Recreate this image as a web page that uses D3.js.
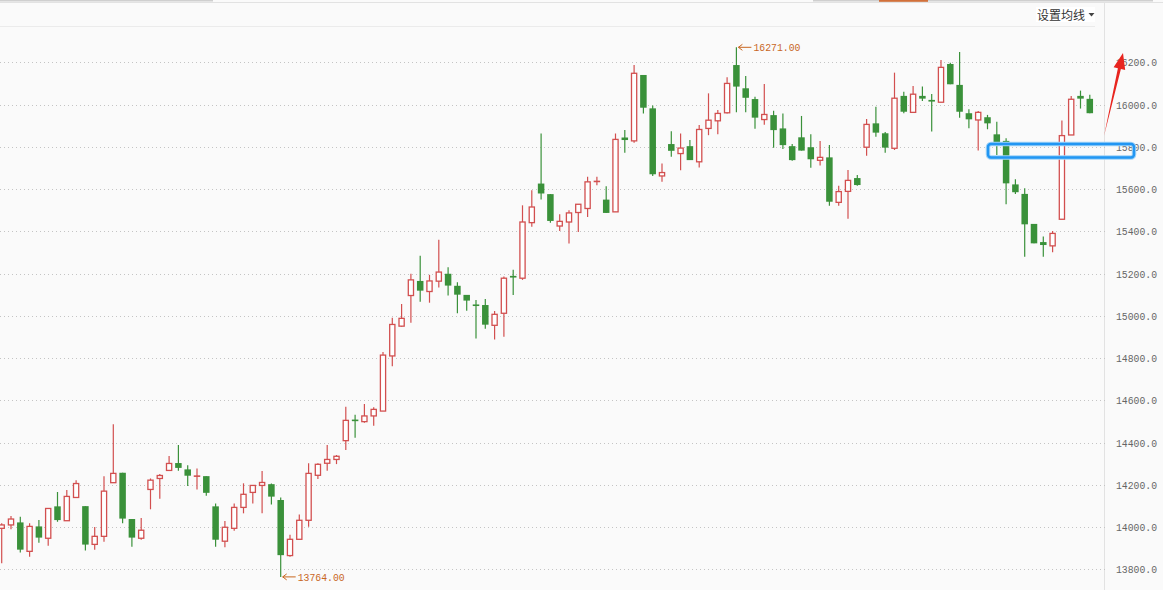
<!DOCTYPE html>
<html>
<head>
<meta charset="utf-8">
<script src="https://cdn.jsdelivr.net/npm/d3@7/dist/d3.min.js"></script>
<style>
html,body{margin:0;padding:0;background:#fafafa;overflow:hidden;}
svg{display:block;}
</style>
</head>
<body>
<svg id="chart" width="1163" height="590"></svg>
<script>
// ---- data ----
const opens = [13994,14010,14022,13885,14003,13947,14098,14030,14140,14099,
13918,13956,14210,14257,14038,13947,14178,14230,14268,14303,
14273,14240,14241,14098,13933,13994,14093,14164,14197,14203,
14128,13865,13942,14032,14245,14302,14320,14409,14506,14499,
14526,14549,14810,14951,15096,15165,15115,15164,15199,15142,
15099,15051,15051,14955,15012,15189,15178,15441,15626,15576,
15425,15444,15489,15508,15634,15550,15492,15844,15828,16140,
15982,15662,15813,15768,15803,15729,15887,15923,15961,16187,
16077,16026,15929,15950,15887,15803,15845,15798,15736,15750,
15537,15589,15652,15798,15911,15864,15793,16041,15963,16041,
16022,16011,16192,16093,15959,15927,15940,15859,15828,15622,
15577,15435,15349,15331,15457,15856,16041,16027];
const highs = [14018,14052,14049,14018,14033,14090,14166,14175,14222,14099,
14000,14241,14487,14257,14038,14043,14230,14251,14336,14388,
14293,14277,14241,14112,14029,14112,14207,14197,14265,14206,
14140,13963,14060,14302,14302,14388,14341,14570,14532,14583,
14567,14829,14991,15056,15199,15284,15194,15360,15230,15159,
15099,15075,15079,15023,15186,15218,15523,15594,15863,15576,
15481,15500,15528,15658,15658,15613,15863,15879,16187,16140,
15996,15721,15874,15863,15832,15903,16053,15974,16129,16271,
16135,16037,16097,15971,15958,15813,15946,15859,15828,15809,
15616,15690,15667,15932,15990,15870,16151,16061,16088,16085,
16050,16211,16198,16249,15978,15970,15951,15919,15840,15646,
15604,15435,15375,15402,15924,16041,16066,16046];
const lows = [13829,13989,13879,13860,13926,13912,14025,14030,14140,13889,
13893,13931,14210,14018,13907,13940,14084,14134,14268,14266,
14194,14178,14148,13907,13904,13983,14065,14112,14065,14107,
13764,13860,13942,14002,14227,14267,14298,14365,14423,14494,
14480,14549,14761,14948,14967,15067,15062,15134,15096,15012,
15024,14893,14939,14888,14901,15099,15170,15421,15550,15440,
15402,15342,15397,15468,15618,15487,15492,15772,15819,15958,
15662,15634,15753,15689,15737,15702,15855,15860,15958,15964,
15964,15885,15904,15795,15790,15734,15782,15701,15711,15521,
15521,15460,15616,15758,15848,15772,15785,15959,15963,16017,
15872,16011,16096,15938,15888,15782,15883,15761,15528,15577,
15280,15343,15280,15301,15457,15856,15981,15959];
const closes = [14010,14038,13893,14003,13950,14088,14033,14145,14206,13917,
13956,14170,14254,14040,13950,13985,14222,14244,14301,14280,
14243,14242,14162,13940,13999,14093,14155,14197,14211,14144,
13867,13942,14032,14254,14297,14320,14335,14505,14504,14526,
14557,14814,14959,14988,15170,15119,15165,15207,15143,15100,
15072,15049,14958,15007,15178,15181,15444,15515,15579,15449,
15447,15487,15528,15634,15638,15487,15835,15832,16148,15985,
15670,15678,15781,15794,15737,15882,15926,15958,16100,16085,
16032,15938,15953,15879,15808,15737,15782,15741,15750,15540,
15588,15641,15619,15906,15867,15796,16030,15966,16049,16028,
16014,16176,16096,15966,15930,15963,15911,15821,15627,15585,
15433,15343,15335,15390,15853,16025,16028,15959];
const yTicks = [13800,14000,14200,14400,14600,14800,15000,15200,15400,15600,15800,16000,16200];
const menuLabel = "设置均线";

// ---- build ----
const candles = opens.map((o,i)=>({i, o, h:highs[i], l:lows[i], c:closes[i]}));
const svg = d3.select("#chart");
const W = 1163, H = 590;
const RED = "#d24f4f", GREEN = "#3a913a", ANNO = "#c8661e";
const MONO = "'Liberation Mono','DejaVu Sans Mono',monospace";

svg.append("rect").attr("width",W).attr("height",H).attr("fill","#fafafa");

const x = d3.scaleBand().domain(d3.range(candles.length))
  .range([-2.95, 1094.45]).paddingInner(0.3).paddingOuter(0.15);
const y = d3.scaleLinear().domain([13800,16200]).range([569.3, 62.3]);

// top chrome
svg.append("rect").attr("x",0).attr("y",0).attr("width",213).attr("height",1.5).attr("fill","#cfcfcf");
svg.append("rect").attr("x",813).attr("y",0).attr("width",340).attr("height",1.5).attr("fill","#cfcfcf");
svg.append("rect").attr("x",879).attr("y",0).attr("width",49).attr("height",1.8).attr("fill","#d2703a");
svg.append("line").attr("x1",0).attr("x2",W).attr("y1",2.5).attr("y2",2.5).attr("stroke","#e2e2e2");
svg.append("line").attr("x1",0).attr("x2",1095).attr("y1",26.5).attr("y2",26.5).attr("stroke","#ebebeb");
svg.append("line").attr("x1",1104.5).attr("x2",1104.5).attr("y1",3).attr("y2",H).attr("stroke","#e2e2e2");

// grid + axis
const yAxis = d3.axisRight(y).tickValues(yTicks).tickFormat(d3.format(".1f")).tickSize(0).tickPadding(0);
const ag = svg.append("g").attr("transform","translate(1157,0)").call(yAxis);
ag.select(".domain").remove();
ag.selectAll("text").attr("text-anchor","end").attr("x",0)
  .attr("textLength",41).attr("lengthAdjust","spacingAndGlyphs")
  .attr("fill","#666").style("font-family",MONO).style("font-size","11px");

svg.append("g").selectAll("line").data(yTicks).join("line")
  .attr("x1",0).attr("x2",1107)
  .attr("y1",d=>Math.round(y(d))+0.5).attr("y2",d=>Math.round(y(d))+0.5)
  .attr("stroke","#c4c4c4").attr("stroke-dasharray","1,3");

// candles
const bw = x.bandwidth();
const cg = svg.append("g");
const g = cg.selectAll("g").data(candles).join("g");
g.append("line")
  .attr("x1",d=>x(d.i)+bw/2).attr("x2",d=>x(d.i)+bw/2)
  .attr("y1",d=>y(d.h)).attr("y2",d=>y(d.l))
  .attr("stroke",d=>d.c>=d.o?RED:GREEN).attr("stroke-width",1.2);
g.each(function(d){
  const sel = d3.select(this);
  const top = y(Math.max(d.o,d.c)), bot = y(Math.min(d.o,d.c));
  const up = d.c>=d.o;
  if (bot-top < 1.5) {
    sel.append("line").attr("x1",x(d.i)).attr("x2",x(d.i)+bw)
      .attr("y1",(top+bot)/2).attr("y2",(top+bot)/2)
      .attr("stroke",up?RED:GREEN).attr("stroke-width",1.6);
  } else if (up) {
    sel.append("rect").attr("x",x(d.i)+0.65).attr("y",top).attr("width",bw-1.3).attr("height",bot-top)
      .attr("fill","#ffffff").attr("stroke",RED).attr("stroke-width",1.3);
  } else {
    sel.append("rect").attr("x",x(d.i)).attr("y",top).attr("width",bw).attr("height",bot-top)
      .attr("fill",GREEN);
  }
});

// high / low annotations
function anno(d, val){
  const cx = x(d.i)+bw/2, yy = y(val);
  svg.append("path").attr("d",`M${cx+6},${yy-3}L${cx+2},${yy}L${cx+6},${yy+3}M${cx+2},${yy}L${cx+15},${yy}`)
    .attr("stroke",ANNO).attr("fill","none").attr("stroke-width",1);
  svg.append("text").attr("x",cx+17).attr("y",yy).attr("dy","0.35em").text(d3.format(".2f")(val))
    .attr("textLength",47).attr("lengthAdjust","spacingAndGlyphs")
    .attr("fill",ANNO).style("font-family",MONO).style("font-size","11px");
}
const hi = candles.reduce((a,b)=>b.h>a.h?b:a);
const lo = candles.reduce((a,b)=>b.l<a.l?b:a);
anno(hi, hi.h);
anno(lo, lo.l);

// menu label
svg.append("rect").attr("x",1036).attr("y",7).attr("width",59).attr("height",15).attr("fill","#ffffff");
svg.append("text").attr("x",1037).attr("y",19.5).text(menuLabel)
  .attr("fill","#333").style("font-family","'Noto Sans CJK SC',sans-serif").style("font-size","12px");
svg.append("path").attr("d","M1088.5,13L1094.5,13L1091.5,16.5Z").attr("fill","#444");

// blue highlight box
svg.append("rect").attr("x",988).attr("y",144).attr("width",146).attr("height",13.5).attr("rx",3)
  .attr("fill","none").attr("stroke","#9fd2f7").attr("stroke-width",4.5);
svg.append("rect").attr("x",988).attr("y",144).attr("width",146).attr("height",13.5).attr("rx",3)
  .attr("fill","none").attr("stroke","#2196f3").attr("stroke-width",2.4);

// red arrow
svg.append("path").attr("d","M1104,136L1117.9,68.3L1113.6,67.2L1123,53L1125.2,70L1120.9,69Z")
  .attr("fill","#e8251f");
</script>
</body>
</html>
